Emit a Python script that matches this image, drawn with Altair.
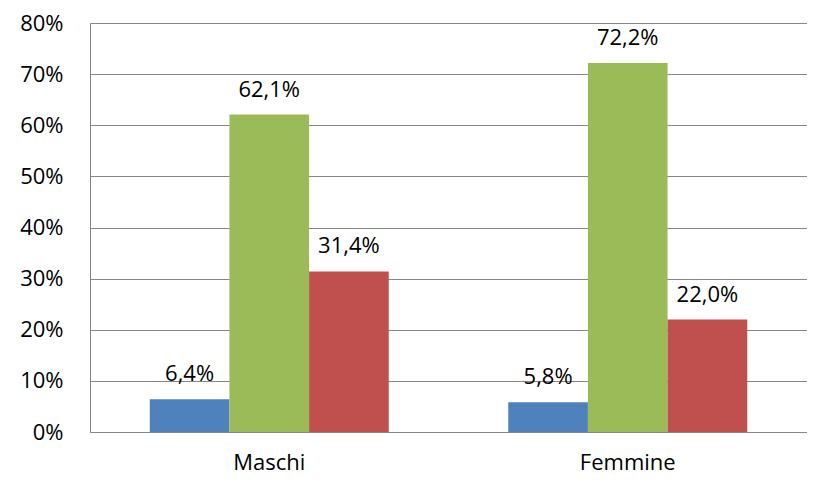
import altair as alt
import pandas as pd

categories = ["Maschi", "Femmine"]
series = ["Serie 1", "Serie 2", "Serie 3"]
values = {
    "Serie 1": [6.4, 5.8],
    "Serie 2": [62.1, 72.2],
    "Serie 3": [31.4, 22.0],
}
colors = ["#4F81BD", "#9BBB59", "#C0504D"]
y_ticks = [0, 10, 20, 30, 40, 50, 60, 70, 80]

rows = []
for s in series:
    for c, v in zip(categories, values[s]):
        rows.append({"cat": c, "serie": s, "val": v,
                     "lab": f"{v:.1f}%".replace(".", ",")})
df = pd.DataFrame(rows)

FONT = "Open Sans"
FS = 22

base = alt.Chart(df).encode(
    x=alt.X("cat:N", sort=categories, title=None,
            scale=alt.Scale(paddingInner=1/3, paddingOuter=1/6),
            axis=alt.Axis(labelAngle=0, ticks=False, domainColor="#868686",
                          labelFont=FONT, labelFontSize=FS, labelColor="#000000",
                          labelBaseline="alphabetic", labelPadding=37)),
    xOffset=alt.XOffset("serie:N", sort=series,
                        scale=alt.Scale(paddingInner=0, paddingOuter=0)),
    y=alt.Y("val:Q", title=None,
            scale=alt.Scale(domain=[0, 80], nice=False),
            axis=alt.Axis(values=y_ticks, labelExpr="datum.value + '%'",
                          ticks=False, domainColor="#868686",
                          gridColor="#868686", gridWidth=1,
                          labelFont=FONT, labelFontSize=FS, labelColor="#000000",
                          labelPadding=27)),
)

bars = base.mark_bar().encode(
    color=alt.Color("serie:N", sort=series,
                    scale=alt.Scale(domain=series, range=colors), legend=None)
)

text = base.mark_text(baseline="alphabetic", dy=-18, font=FONT,
                      fontSize=FS, color="#000000").encode(text="lab:N")

chart = (bars + text).properties(
    width=717, height=409,
    padding={"left": 82, "top": 15, "right": 0, "bottom": 44},
    autosize=alt.AutoSizeParams(type="none"),
).configure_view(stroke=None).configure_axis(grid=True).configure_axisX(grid=False)

chart.save("out.html", embed_options={"renderer": "svg", "actions": False})
